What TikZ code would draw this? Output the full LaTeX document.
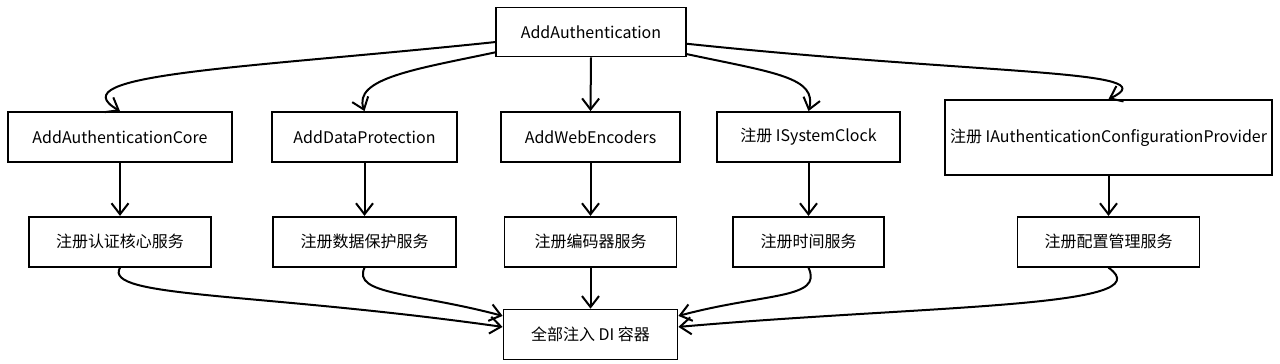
\documentclass[tikz,border=0pt]{standalone}
\usepackage{fontspec}
\setmainfont{Noto Sans CJK SC}
\usetikzlibrary{arrows.meta, positioning}

\begin{document}
\begin{tikzpicture}[x=1pt, y=1pt, >={Straight Barb[length=11pt, width=17pt]},
  box/.style={draw, line width=1.8pt, minimum height=50pt, inner sep=0pt,
    font=\fontsize{16}{19}\selectfont},
  flow/.style={->, line width=2pt},
  node distance=53pt]
  \useasboundingbox (0,0) rectangle (1280,364);

  \node[box, minimum width=190pt, minimum height=49pt] (auth) at (591,332) {AddAuthentication};

  \node[box, minimum width=224pt] (core) at (120,227) {AddAuthenticationCore};
  \node[box, minimum width=185pt] (dp) at (364.5,227) {AddDataProtection};
  \node[box, minimum width=179pt] (web) at (590.5,227) {AddWebEncoders};
  \node[box, minimum width=183pt] (clock) at (808.5,227) {注册 ISystemClock};
  \node[box, minimum width=327pt, minimum height=75pt] (cfg) at (1108.5,226.5) {注册 IAuthenticationConfigurationProvider};

  \node[box, minimum width=182pt, below=of core] (coresvc) {注册认证核心服务};
  \node[box, minimum width=183pt, below=of dp] (dpsvc) {注册数据保护服务};
  \node[box, minimum width=172pt, below=of web] (encsvc) {注册编码器服务};
  \node[box, minimum width=151pt, below=of clock] (clocksvc) {注册时间服务};
  \node[box, minimum width=182pt, below=40pt of cfg] (cfgsvc) {注册配置管理服务};

  \node[box, minimum width=174pt, below=41pt of encsvc] (di) {全部注入 DI 容器};

  % AddAuthentication fans out
  \draw[flow] (auth.186.6) to[out=186, in=150, out distance=250pt, in distance=75pt] (core.north);
  \draw[flow] (auth.192.5) to[out=192, in=110, out distance=80pt, in distance=35pt] (dp.north);
  \draw[flow] (auth.south) -- (web.north);
  \draw[flow] (auth.347.5) to[out=-12, in=75, out distance=90pt, in distance=35pt] (clock.north);
  \draw[flow] (auth.353.4) to[out=-6, in=25, out distance=300pt, in distance=70pt] (cfg.north);

  % each step registers its services
  \draw[flow] (core) -- (coresvc);
  \draw[flow] (dp) -- (dpsvc);
  \draw[flow] (web) -- (encsvc);
  \draw[flow] (clock) -- (clocksvc);
  \draw[flow] (cfg) -- (cfgsvc);

  % everything ends up in the container
  \draw[flow] (coresvc.south) to[out=240, in=172, out distance=35pt, in distance=250pt] (di.175);
  \draw[flow] (dpsvc.south) to[out=245, in=165, out distance=30pt, in distance=90pt] (di.168);
  \draw[flow] (encsvc) -- (di);
  \draw[flow] (clocksvc.south) to[out=-65, in=15, out distance=35pt, in distance=90pt] (di.12);
  \draw[flow] (cfgsvc.south) to[out=-35, in=5, out distance=70pt, in distance=250pt] (di.5);
\end{tikzpicture}
\end{document}
